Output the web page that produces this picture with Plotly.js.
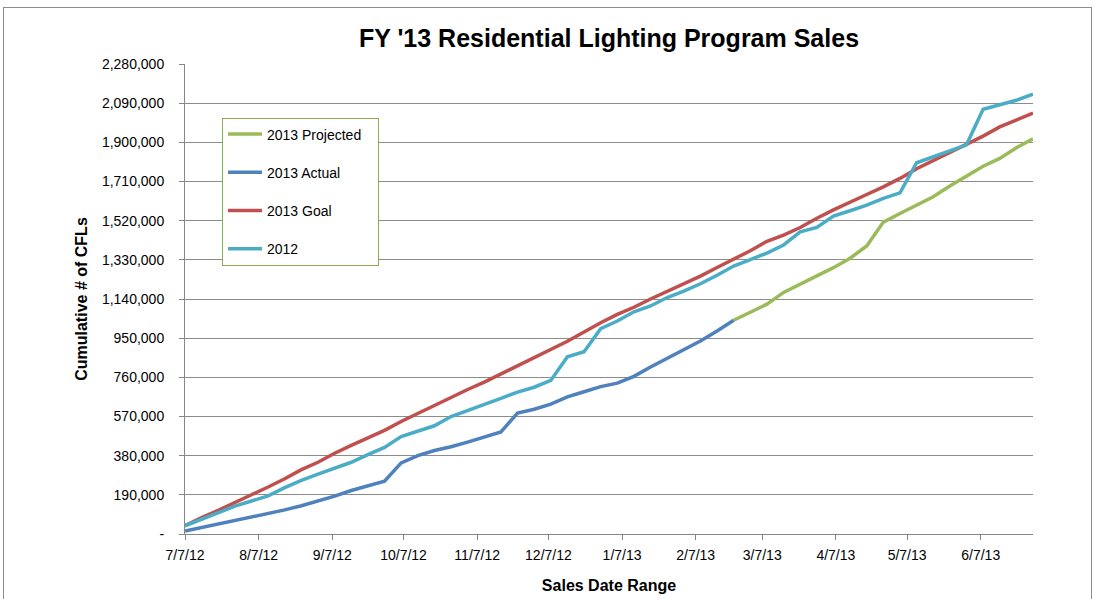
<!DOCTYPE html>
<html>
<head>
<meta charset="utf-8">
<script src="https://cdn.plot.ly/plotly-3.0.1.min.js"></script>
<style>
  html, body { margin: 0; padding: 0; background: #ffffff; overflow: hidden; }
  #frame { position: absolute; left: 3px; top: 7px; width: 1089px; height: 640px; border: 1px solid #8c8c8c; box-sizing: border-box; pointer-events: none; z-index: 5; }
  #chart { position: absolute; left: 0; top: 0; width: 1095px; height: 599px; }
</style>
</head>
<body>
<div id="chart"></div>
<div id="frame"></div>
<script>
// Weekly sales dates (Saturdays), FY '13
const weeks = [
  '2012-07-07','2012-07-14','2012-07-21','2012-07-28','2012-08-04','2012-08-11','2012-08-18','2012-08-25',
  '2012-09-01','2012-09-08','2012-09-15','2012-09-22','2012-09-29','2012-10-06','2012-10-13','2012-10-20',
  '2012-10-27','2012-11-03','2012-11-10','2012-11-17','2012-11-24','2012-12-01','2012-12-08','2012-12-15',
  '2012-12-22','2012-12-29','2013-01-05','2013-01-12','2013-01-19','2013-01-26','2013-02-02','2013-02-09',
  '2013-02-16','2013-02-23','2013-03-02','2013-03-09','2013-03-16','2013-03-23','2013-03-30','2013-04-06',
  '2013-04-13','2013-04-20','2013-04-27','2013-05-04','2013-05-11','2013-05-18','2013-05-25','2013-06-01',
  '2013-06-08','2013-06-15','2013-06-22','2013-06-29'
];

// 2013 Projected (starts where Actual ends)
const projected2013 = [
  null,null,null,null,null,null,null,null,null,null,null,null,null,null,null,null,null,
  null,null,null,null,null,null,null,null,null,null,null,null,null,null,null,null,
  1037000,1075000,1115000,1172000,1210000,1252000,1292000,1338000,1397000,1513000,
  1555000,1597000,1636000,1688000,1738000,1784000,1822000,1874000,1917000
];

// 2013 Actual
const actual2013 = [
  14000,31000,48000,63000,80000,98000,117000,137000,160000,184000,211000,235000,256000,
  345000,380000,405000,423000,446000,470000,495000,587000,605000,630000,665000,690000,
  715000,732000,765000,810000,852000,898000,936000,985000,1037000,
  null,null,null,null,null,null,null,null,null,null,null,null,null,null,null,null,null,null
];

// 2013 Goal
const goal2013 = [
  40000,80000,115000,152000,190000,228000,268000,312000,348000,392000,430000,468000,503000,
  546000,585000,626000,664000,701000,737000,777000,818000,858000,899000,935000,980000,
  1025000,1065000,1100000,1140000,1176000,1213000,1251000,1293000,1333000,1374000,1420000,
  1450000,1487000,1532000,1572000,1611000,1647000,1684000,1725000,1772000,1812000,1852000,
  1888000,1930000,1975000,2008000,2042000
];

// 2012
const sales2012 = [
  40000,72000,103000,135000,160000,185000,225000,260000,290000,320000,348000,385000,420000,
  473000,497000,525000,570000,598000,627000,658000,688000,712000,745000,860000,884000,
  996000,1033000,1078000,1106000,1147000,1178000,1214000,1255000,1300000,1331000,1363000,
  1402000,1466000,1487000,1542000,1568000,1595000,1628000,1655000,1801000,1830000,1858000,
  1888000,2060000,2083000,2104000,2134000
];

const seriesNames = ['2013 Projected', '2013 Actual', '2013 Goal', '2012'];

const xTickVals = ['2012-07-07','2012-08-07','2012-09-07','2012-10-07','2012-11-07','2012-12-07',
                   '2013-01-07','2013-02-07','2013-03-07','2013-04-07','2013-05-07','2013-06-07'];
const xTickText = ['7/7/12','8/7/12','9/7/12','10/7/12','11/7/12','12/7/12',
                   '1/7/13','2/7/13','3/7/13','4/7/13','5/7/13','6/7/13'];

const yTickVals = [0,190000,380000,570000,760000,950000,1140000,1330000,1520000,1710000,1900000,2090000,2280000];
const yTickText = ['-','190,000','380,000','570,000','760,000','950,000','1,140,000','1,330,000',
                   '1,520,000','1,710,000','1,900,000','2,090,000','2,280,000'];

const colors = ['#9bbb59', '#4f81bd', '#c0504d', '#4bacc6'];
const seriesData = [projected2013, actual2013, goal2013, sales2012];

const pad = '\u00A0\u00A0\u00A0';
const traces = seriesData.map((ys, i) => ({
  type: 'scatter',
  mode: 'lines',
  name: seriesNames[i] + (i === 0 ? pad : ''),
  legendgroup: 'g' + i,
  x: weeks,
  y: ys,
  connectgaps: false,
  line: { color: colors[i], width: 3.5 },
  hoverinfo: 'x+y+name'
}));

const tickFont = { family: 'Liberation Sans, Arial, sans-serif', size: 14, color: '#000000' };
const boldFont = { family: 'Liberation Sans, Arial, sans-serif', size: 16, color: '#000000', weight: 'bold' };

const layout = {
  width: 1095,
  height: 599,
  paper_bgcolor: 'rgba(0,0,0,0)',
  plot_bgcolor: '#ffffff',
  margin: { l: 185, r: 62, t: 64, b: 65, pad: 0 },
  title: {
    text: "<b>FY '13 Residential Lighting Program Sales</b>",
    font: { family: 'Liberation Sans, Arial, sans-serif', size: 25, color: '#000000' },
    x: 0.5, xref: 'paper', xanchor: 'center',
    y: 1 - 38 / 599, yref: 'container', yanchor: 'middle'
  },
  xaxis: {
    type: 'date',
    range: ['2012-07-07', '2013-06-29'],
    tickmode: 'array',
    tickvals: xTickVals,
    ticktext: xTickText,
    ticks: 'outside',
    ticklen: 5,
    tickcolor: '#868686',
    tickwidth: 1,
    showline: true,
    linecolor: '#868686',
    linewidth: 1,
    showgrid: false,
    zeroline: false,
    tickfont: tickFont,
    ticklabelstandoff: 3,
    title: { text: '<b>Sales Date Range</b>', font: boldFont, standoff: 18 },
    fixedrange: true
  },
  yaxis: {
    range: [0, 2280000],
    tickmode: 'array',
    tickvals: yTickVals,
    ticktext: yTickText,
    ticks: 'outside',
    ticklen: 5,
    tickcolor: '#868686',
    tickwidth: 1,
    showline: true,
    linecolor: '#868686',
    linewidth: 1,
    showgrid: true,
    gridcolor: '#8c8c8c',
    gridwidth: 1,
    zeroline: false,
    tickfont: tickFont,
    ticklabelstandoff: 12,
    title: { text: '<b>Cumulative # of CFLs</b>', font: boldFont, standoff: 10 },
    fixedrange: true
  },
  showlegend: true,
  legend: {
    x: (222 - 185) / 848,
    y: (534.5 - 118) / 470,
    xanchor: 'left',
    yanchor: 'top',
    bgcolor: '#ffffff',
    bordercolor: '#8fad4f',
    borderwidth: 1,
    font: { family: 'Liberation Sans, Arial, sans-serif', size: 14, color: '#000000' },
    itemwidth: 34,
    traceorder: 'grouped',
    tracegroupgap: 17
  }
};

Plotly.newPlot('chart', traces, layout, { staticPlot: true, displayModeBar: false });
</script>
</body>
</html>
